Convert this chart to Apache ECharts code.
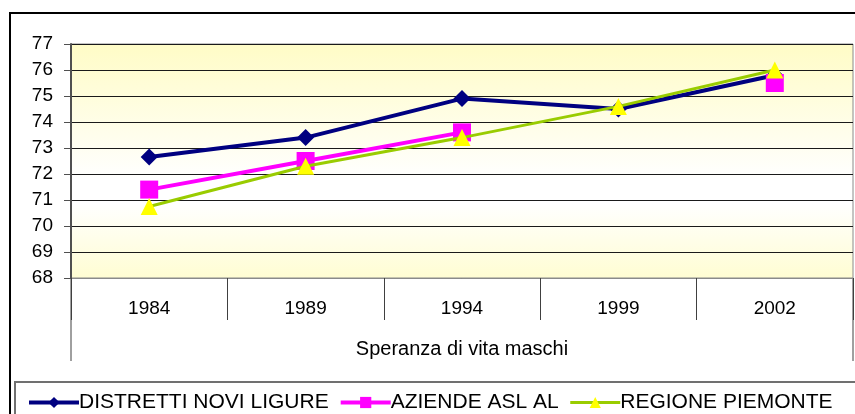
<!DOCTYPE html>
<html>
<head>
<meta charset="utf-8">
<script src="https://cdn.jsdelivr.net/npm/echarts@6/dist/echarts.min.js"></script>
<style>
html,body{margin:0;padding:0;background:#fff;}
#chart{width:855px;height:414px;}
</style>
</head>
<body>
<div id="chart"></div>
<script>
var categories = ['1984', '1989', '1994', '1999', '2002'];
var distretti = [72.65, 73.4, 74.9, 74.5, 75.8];
var aziende = [71.4, 72.5, 73.6, null, 75.5];
var regione = [70.75, 72.3, 73.4, 74.6, 76.0];
var seriesNames = ['DISTRETTI NOVI LIGURE', 'AZIENDE ASL AL', 'REGIONE PIEMONTE'];
var axisTitle = 'Speranza di vita maschi';

var FONT = '"Liberation Sans", Arial, sans-serif';
var chart = echarts.init(document.getElementById('chart'), null, {renderer: 'canvas'});
var option = {
  animation: false,
  backgroundColor: '#ffffff',
  textStyle: {fontFamily: FONT},
  grid: {
    left: 71, top: 44, right: 2, bottom: 136,
    show: true,
    borderColor: '#8a8a8a',
    borderWidth: 1,
    backgroundColor: {
      type: 'linear', x: 0, y: 0, x2: 0, y2: 1,
      colorStops: [
        {offset: 0, color: '#FFFCC6'},
        {offset: 0.58, color: '#FFFFFF'},
        {offset: 0.68, color: '#FFFFFF'},
        {offset: 1, color: '#FFFDD2'}
      ]
    }
  },
  xAxis: {
    type: 'category',
    data: categories,
    boundaryGap: true,
    axisLine: {show: true, lineStyle: {color: '#8a8a8a', width: 1}},
    axisTick: {show: true, alignWithLabel: false, interval: 0, length: 42, lineStyle: {color: '#404040', width: 1}},
    axisLabel: {color: '#000', fontSize: 19, margin: 21, fontFamily: FONT},
    name: axisTitle,
    nameLocation: 'middle',
    nameGap: 61,
    nameTextStyle: {color: '#000', fontSize: 20, fontFamily: FONT}
  },
  yAxis: {
    type: 'value',
    min: 68, max: 77, interval: 1,
    axisLine: {show: true, lineStyle: {color: '#505050', width: 2}},
    axisTick: {show: true, length: 7, lineStyle: {color: '#505050', width: 1}},
    axisLabel: {color: '#000', fontSize: 19, margin: 18, fontFamily: FONT},
    splitLine: {show: true, lineStyle: {color: '#1a1a1a', width: 1}}
  },
  legend: {
    left: 22, top: 387,
    itemWidth: 50, itemHeight: 14, itemGap: 10,
    textStyle: {color: '#000', fontSize: 21, fontFamily: FONT, padding: [0, 0, 0, -5]},
    data: [
      {name: seriesNames[0], lineStyle: {width: 4}},
      {name: seriesNames[1], lineStyle: {width: 4}},
      {name: seriesNames[2], lineStyle: {width: 3}}
    ]
  },
  series: [
    {
      name: seriesNames[0], type: 'line', data: distretti,
      symbol: 'diamond', symbolSize: 17,
      lineStyle: {color: '#000080', width: 4},
      itemStyle: {color: '#000080'},
      z: 2
    },
    {
      name: seriesNames[1], type: 'line', data: aziende,
      symbol: 'rect', symbolSize: 18, connectNulls: false,
      lineStyle: {color: '#FF00FF', width: 4},
      itemStyle: {color: '#FF00FF'},
      z: 3
    },
    {
      name: seriesNames[2], type: 'line', data: regione,
      symbol: 'triangle', symbolSize: 17,
      lineStyle: {color: '#99CC00', width: 3},
      itemStyle: {color: '#FFFF00'},
      z: 4
    }
  ],
  graphic: [
    {type: 'rect', shape: {x: 10, y: 13, width: 900, height: 500}, style: {fill: 'none', stroke: '#000', lineWidth: 2}, silent: true, z: -10},
    {type: 'line', shape: {x1: 71, y1: 278, x2: 71, y2: 361}, style: {stroke: '#404040', lineWidth: 1}, silent: true},
    {type: 'line', shape: {x1: 853, y1: 278, x2: 853, y2: 361}, style: {stroke: '#404040', lineWidth: 1}, silent: true},
    {type: 'rect', shape: {x: 15, y: 382, width: 900, height: 100}, style: {fill: 'none', stroke: '#707070', lineWidth: 2}, silent: true}
  ]
};
chart.setOption(option);
</script>
</body>
</html>
